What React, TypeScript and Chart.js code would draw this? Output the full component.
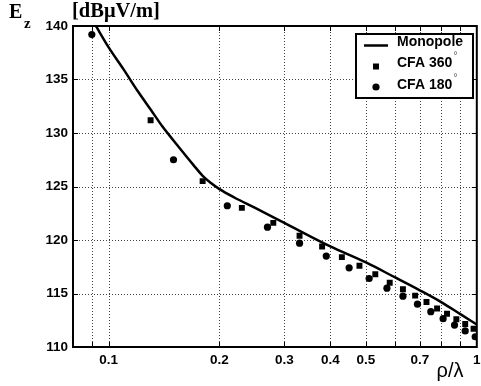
import React, { useEffect, useRef } from "react";
import { Chart, registerables } from "chart.js";

Chart.register(...registerables);

// Monopole (solid line)
const monopoleX = [0.092, 0.1, 0.11, 0.12, 0.13, 0.14, 0.15, 0.17, 0.18, 0.19, 0.2, 0.22, 0.25, 0.3, 0.4, 0.5, 0.6, 0.7, 0.8, 0.9, 1.0];
const monopoleY = [140.1, 138.0, 135.9, 133.9, 132.2, 130.6, 129.3, 127.0, 126.0, 125.3, 124.75, 123.95, 123.0, 121.6, 119.4, 117.9, 116.5, 115.3, 114.2, 113.1, 112.1];

// CFA 360° (squares)
const cfa360X = [0.13, 0.18, 0.23, 0.28, 0.33, 0.38, 0.43, 0.48, 0.53, 0.58, 0.63, 0.68, 0.73, 0.78, 0.83, 0.88, 0.93, 0.98];
const cfa360Y = [131.2, 125.5, 123.0, 121.6, 120.4, 119.4, 118.4, 117.6, 116.8, 116.0, 115.4, 114.8, 114.2, 113.6, 113.1, 112.6, 112.15, 111.7];

// CFA 180° (circles)
const cfa180X = [0.09, 0.15, 0.21, 0.27, 0.33, 0.39, 0.45, 0.51, 0.57, 0.63, 0.69, 0.75, 0.81, 0.87, 0.93, 0.99];
const cfa180Y = [139.2, 127.5, 123.2, 121.2, 119.7, 118.5, 117.4, 116.4, 115.5, 114.75, 114.0, 113.3, 112.65, 112.05, 111.5, 110.96];

// Axes
const xTickValues = [0.1, 0.2, 0.3, 0.4, 0.5, 0.7, 1];
const xGridValues = [0.09, 0.1, 0.2, 0.3, 0.4, 0.5, 0.6, 0.7, 0.8, 0.9];
const yTickValues = [110, 115, 120, 125, 130, 135, 140];
const xMin = 0.08;
const xMax = 1;
const yMin = 110;
const yMax = 140;

const legendLabels = ["Monopole", "CFA 360", "CFA 180"];

const SANS = "'Liberation Sans', Arial, Helvetica, sans-serif";
const SERIF = "'Liberation Serif', 'Times New Roman', serif";

const toXY = (xs: number[], ys: number[]) => xs.map((x, i) => ({ x, y: ys[i] }));

const framePlugin = {
  id: "frame",
  beforeDatasetsDraw(chart: any) {
    const { ctx, chartArea: a, scales } = chart;
    const xs = scales.x;
    const ys = scales.y;
    ctx.save();
    ctx.strokeStyle = "#444";
    ctx.lineWidth = 1;
    ctx.setLineDash([1, 2]);
    xGridValues.forEach((v) => {
      const px = Math.round(xs.getPixelForValue(v)) + 0.5;
      ctx.beginPath();
      ctx.moveTo(px, a.top);
      ctx.lineTo(px, a.bottom);
      ctx.stroke();
    });
    yTickValues.forEach((v) => {
      if (v === yMin || v === yMax) return;
      const py = Math.round(ys.getPixelForValue(v)) + 0.5;
      ctx.beginPath();
      ctx.moveTo(a.left, py);
      ctx.lineTo(a.right, py);
      ctx.stroke();
    });
    ctx.restore();
  },
  afterDatasetsDraw(chart: any) {
    const { ctx, chartArea: a, scales } = chart;
    const xs = scales.x;
    const ys = scales.y;
    ctx.save();
    ctx.setLineDash([]);
    // inward ticks
    ctx.strokeStyle = "#000";
    ctx.lineWidth = 1;
    const tl = 5;
    xGridValues.forEach((v) => {
      const px = Math.round(xs.getPixelForValue(v)) + 0.5;
      ctx.beginPath();
      ctx.moveTo(px, a.top);
      ctx.lineTo(px, a.top + tl);
      ctx.moveTo(px, a.bottom);
      ctx.lineTo(px, a.bottom - tl);
      ctx.stroke();
    });
    yTickValues.forEach((v) => {
      const py = Math.round(ys.getPixelForValue(v)) + 0.5;
      ctx.beginPath();
      ctx.moveTo(a.left, py);
      ctx.lineTo(a.left + tl, py);
      ctx.moveTo(a.right, py);
      ctx.lineTo(a.right - tl, py);
      ctx.stroke();
    });
    // frame
    ctx.lineWidth = 2;
    ctx.strokeRect(a.left, a.top, a.right - a.left, a.bottom - a.top);

    // legend
    const lx = 356;
    const ly = 34;
    const lw = 117;
    const lh = 64;
    ctx.fillStyle = "#fff";
    ctx.fillRect(lx, ly, lw, lh);
    ctx.lineWidth = 2;
    ctx.strokeStyle = "#000";
    ctx.strokeRect(lx, ly, lw, lh);
    ctx.lineWidth = 2.5;
    ctx.beginPath();
    ctx.moveTo(364, 45.5);
    ctx.lineTo(388, 45.5);
    ctx.stroke();
    ctx.fillStyle = "#000";
    ctx.fillRect(373, 63.5, 6, 6);
    ctx.beginPath();
    ctx.arc(376, 87, 3.6, 0, Math.PI * 2);
    ctx.fill();
    ctx.font = `bold 14px ${SANS}`;
    ctx.textAlign = "left";
    ctx.textBaseline = "alphabetic";
    ctx.fillText(legendLabels[0], 397, 46);
    ctx.fillText(legendLabels[1], 397, 67);
    ctx.fillText(legendLabels[2], 397, 88.5);
    ctx.font = `10px ${SANS}`;
    ctx.fillStyle = "#555";
    ctx.fillText("°", 453.5, 59);
    ctx.fillText("°", 453.5, 81);

    // titles
    ctx.fillStyle = "#000";
    ctx.font = `bold 20px ${SERIF}`;
    ctx.fillText("E", 9, 18.3);
    ctx.font = `bold 20.5px ${SERIF}`;
    ctx.fillText("[dBμV/m]", 72, 17);
    ctx.font = `bold 15px ${SERIF}`;
    ctx.fillText("z", 24, 28.3);
    ctx.font = `20px ${SANS}`;
    ctx.textAlign = "center";
    ctx.fillText("ρ/λ", 450, 376.5);
    ctx.restore();
  },
};

export default function App() {
  const ref = useRef<HTMLCanvasElement | null>(null);
  useEffect(() => {
    if (!ref.current) return;
    const tickFont = { family: SANS, size: 13.5, weight: "bold" as const };
    const chart = new Chart(ref.current, {
      type: "scatter",
      data: {
        datasets: [
          {
            label: "Monopole",
            data: toXY(monopoleX, monopoleY),
            showLine: true,
            borderColor: "#000",
            borderWidth: 2.5,
            pointRadius: 0,
            cubicInterpolationMode: "monotone",
            fill: false,
          } as any,
          {
            label: "CFA 360",
            data: toXY(cfa360X, cfa360Y),
            pointStyle: "rect",
            pointRadius: 4.2,
            pointBackgroundColor: "#000",
            pointBorderWidth: 0,
            borderColor: "#000",
          },
          {
            label: "CFA 180",
            data: toXY(cfa180X, cfa180Y),
            pointStyle: "circle",
            pointRadius: 3.6,
            pointBackgroundColor: "#000",
            pointBorderWidth: 0,
            borderColor: "#000",
          },
        ],
      },
      options: {
        responsive: false,
        animation: false,
        events: [],
        layout: { padding: { left: 0, right: 1.5, top: 26, bottom: 0 } },
        plugins: { legend: { display: false }, tooltip: { enabled: false } },
        scales: {
          x: {
            type: "logarithmic",
            min: xMin,
            max: xMax,
            grid: { display: false, drawTicks: false, tickLength: 0 },
            border: { display: false },
            ticks: {
              autoSkip: false,
              maxRotation: 0,
              padding: 5,
              color: "#000",
              font: tickFont,
              callback: (v: any) => String(v),
            },
            afterBuildTicks: (s: any) => {
              s.ticks = xTickValues.map((v) => ({ value: v }));
            },
            afterFit: (s: any) => {
              s.height = 39;
              s.paddingLeft = 0;
              s.paddingRight = 0;
            },
          },
          y: {
            type: "linear",
            min: yMin,
            max: yMax,
            grid: { display: false, drawTicks: false, tickLength: 0 },
            border: { display: false },
            ticks: {
              stepSize: 5,
              padding: 5,
              color: "#000",
              font: tickFont,
            },
            afterBuildTicks: (s: any) => {
              s.ticks = yTickValues.map((v) => ({ value: v }));
            },
            afterFit: (s: any) => {
              s.width = 73;
              s.paddingTop = 0;
              s.paddingBottom = 0;
            },
          },
        },
      },
      plugins: [framePlugin],
    });
    return () => chart.destroy();
  }, []);
  return (
    <div style={{ position: "absolute", left: 0, top: 0, width: 481, height: 386, background: "#fff" }}>
      <canvas ref={ref} width={481} height={386} style={{ display: "block" }} />
    </div>
  );
}
